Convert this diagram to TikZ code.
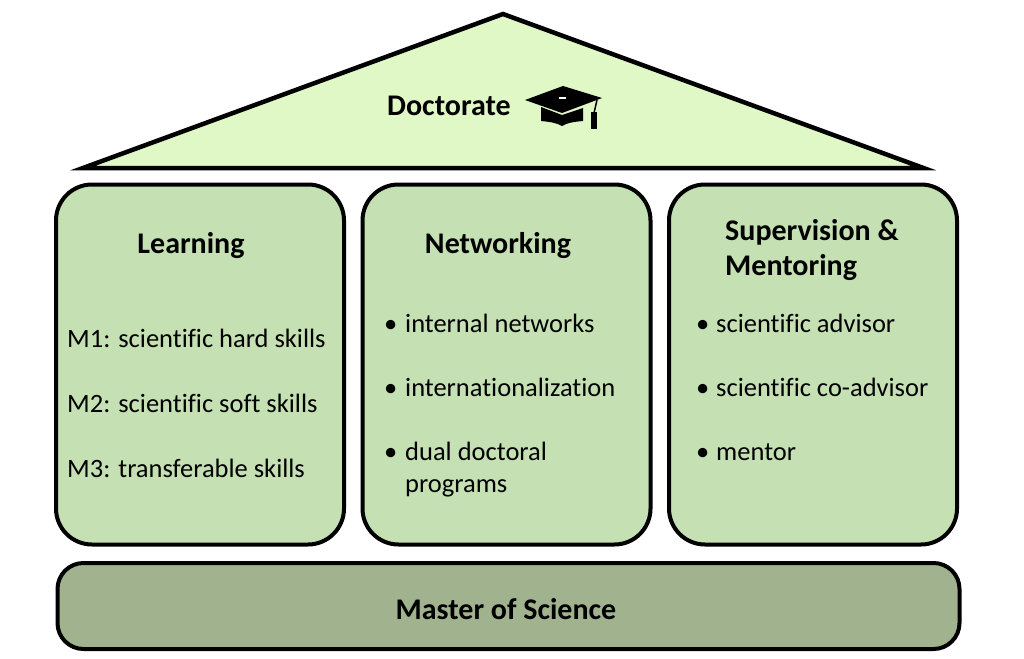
\documentclass[tikz,border=0pt]{standalone}
\usepackage{fontspec}
\setmainfont{Carlito}[Ligatures=NoCommon]
\definecolor{roofcol}{HTML}{DFF8C6}
\definecolor{pillarcol}{HTML}{C5E0B3}
\definecolor{basecol}{HTML}{A1B38E}
\tikzset{
  outline/.style={draw=black, line width=4pt},
  pillar/.style={outline, fill=pillarcol, rounded corners=36pt, minimum width=288pt, minimum height=360pt, inner sep=0pt},
  basebox/.style={outline, fill=basecol, rounded corners=26pt, minimum width=902pt, minimum height=86pt, inner sep=0pt},
  titletext/.style={font=\fontsize{30}{36}\selectfont\bfseries, inner sep=0pt},
  bodytext/.style={font=\fontsize{26.5}{32}\selectfont, inner sep=0pt, anchor=base west},
}
\begin{document}
\begin{tikzpicture}[x=1pt,y=-1pt]
\useasboundingbox (0,0) rectangle (1024,658);
% roof
\coordinate (rl) at (83,168);
\coordinate (rt) at (503,14);
\coordinate (rr) at (923.5,168);
\draw[outline, line width=4.5pt, fill=roofcol, line join=miter, miter limit=20] (rl) -- (rt) -- (rr) -- cycle;
\node[titletext, anchor=base west] (doc) at (387,116) {Doctorate};
% graduation cap
\fill[black] (525,100) -- (563,86) -- (602,98) -- (562,113) -- cycle;
\fill[black] (541,107) -- (562,115) -- (583,108) -- (583,121) .. controls (572,122) and (567,123) .. (562,126) .. controls (557,123) and (551,122) .. (541,121) -- cycle;
\fill[white] (559,97.5) rectangle (566,99);
\draw[black, line width=1.5pt] (597,100) -- (594,113);
\fill[black] (591,112) rectangle (597,129);
% pillars
\node[pillar] (learn) at (200,364.5) {};
\node[pillar] (net) at (506.5,364.5) {};
\node[pillar] (sup) at (813,364.5) {};
% base
\node[basebox] (msc) at (508.5,606) {};
\node[titletext, anchor=base] (msctext) at (506,619) {Master of Science};
% Learning
\node[titletext, anchor=base] (lt) at (191,253) {Learning};
\node[bodytext] (m1) at (67,347) {M1: scientific hard skills};
\node[bodytext] (m2) at (67,412) {M2: scientific soft skills};
\node[bodytext] (m3) at (67,477) {M3: transferable skills};
% Networking
\node[titletext, anchor=base] (nt) at (498,253) {Networking};
\node[bodytext] (nb1) at (384,332) {•};
\node[bodytext] (n1) at (405,332) {internal networks};
\node[bodytext] (nb2) at (384,396) {•};
\node[bodytext] (n2) at (405,396) {internationalization};
\node[bodytext] (nb3) at (384,460) {•};
\node[bodytext] (n3) at (405,460) {dual doctoral};
\node[bodytext] (n4) at (405,492) {programs};
% Supervision
\node[titletext, anchor=base west] (st1) at (725,240) {Supervision \&};
\node[titletext, anchor=base west] (st2) at (725,275) {Mentoring};
\node[bodytext] (sb1) at (696,332) {•};
\node[bodytext] (s1) at (716,332) {scientific advisor};
\node[bodytext] (sb2) at (696,396) {•};
\node[bodytext] (s2) at (716,396) {scientific co-advisor};
\node[bodytext] (sb3) at (696,460) {•};
\node[bodytext] (s3) at (716,460) {mentor};
\end{tikzpicture}
\end{document}
